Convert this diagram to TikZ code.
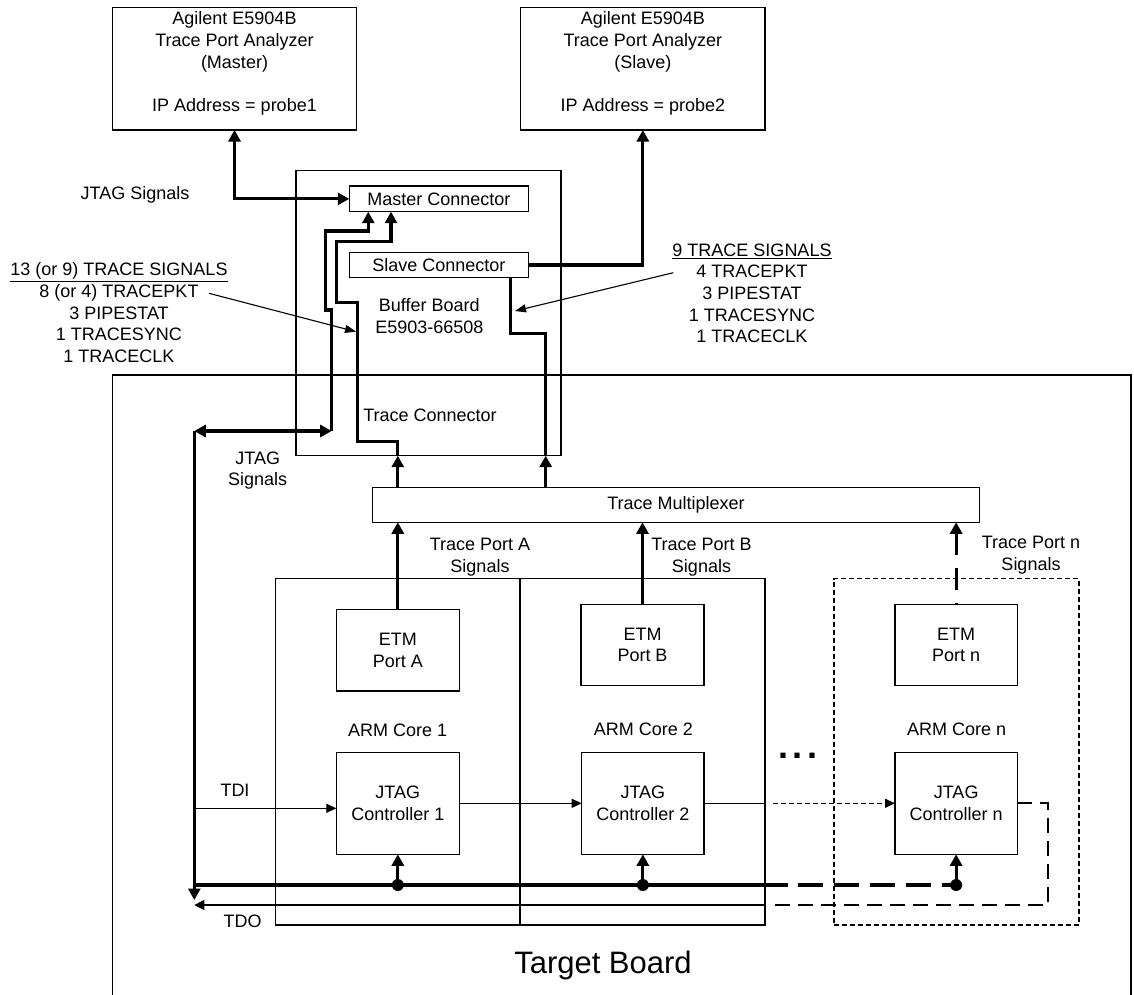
\documentclass[tikz,border=0pt]{standalone}
\usepackage{fontspec}
\setmainfont{Liberation Sans}
\usetikzlibrary{arrows.meta,calc}
\begin{document}
\begin{tikzpicture}[x=1pt,y=-1pt,
  every node/.style={font=\fontsize{18}{21.7}\selectfont, inner sep=0pt, outer sep=0pt},
  box/.style={draw, line width=1.1pt, align=center},
  lbl/.style={align=center},
  thk/.style={line width=3.2pt},
  thn/.style={line width=1.1pt},
  thkarr/.style={thk, -{Triangle[length=11.5pt,width=12pt]}},
  thkdbl/.style={thk, {Triangle[length=11.5pt,width=12pt]}-{Triangle[length=11.5pt,width=12pt]}},
  thnarr/.style={thn, -{Triangle[length=10pt,width=9pt]}},
  finedash/.style={dash pattern=on 5pt off 3pt},
  dotnode/.style={circle, fill, draw=none, minimum size=12pt}]
\useasboundingbox (0,0) rectangle (1134,994);

% ---- boards and boxes
\node[box, minimum width=1018.3pt, minimum height=660pt, anchor=north west] (tb) at (112.7,375) {};
\node[font=\fontsize{31}{36}\selectfont] (tbl) at (603,965) {Target Board};

\node[box, minimum width=244.4pt, minimum height=122.7pt] (ma) at (234.5,68.65) {};
\node[lbl] (matext) at (234.5,63.5) {Agilent E5904B\\Trace Port Analyzer\\(Master)\\[21.7pt]IP Address = probe1};
\node[box, minimum width=244.3pt, minimum height=122.7pt] (sa) at (642.85,68.65) {};
\node[lbl] (satext) at (642.85,63.5) {Agilent E5904B\\Trace Port Analyzer\\(Slave)\\[21.7pt]IP Address = probe2};

\node[box, minimum width=265pt, minimum height=285pt] (bb) at (428.5,313.2) {};
\node[lbl] (bbl) at (429.3,316) {Buffer Board\\E5903-66508};
\node[lbl] (tcl) at (430,415) {Trace Connector};
\node[box, minimum width=179pt, minimum height=25.7pt] (mc) at (438.8,198.85) {Master Connector};
\node[box, minimum width=179pt, minimum height=25.4pt] (sc) at (438.8,265) {Slave Connector};

\node[box, minimum width=606.6pt, minimum height=35pt] (mux) at (676,504.8) {Trace Multiplexer};

\node[box, minimum width=244.7pt, minimum height=346.3pt] (core1) at (397.65,751.85) {};
\node[box, minimum width=245pt, minimum height=346.3pt] (core2) at (642.5,751.85) {};
\node[box, finedash, minimum width=245pt, minimum height=346.3pt] (coren) at (956.5,751.85) {};

\node[box, minimum width=123pt, minimum height=81.3pt] (etmA) at (397.8,650.35) {ETM\\Port A};
\node[box, minimum width=123pt, minimum height=81.4pt] (etmB) at (642.5,645) {ETM\\Port B};
\node[box, minimum width=122.3pt, minimum height=81.4pt] (etmN) at (956.15,645) {ETM\\Port n};

\node[box, minimum width=123pt, minimum height=102pt] (c1) at (397.8,803.3) {JTAG\\Controller 1};
\node[box, minimum width=122.3pt, minimum height=102pt] (c2) at (642.85,803.3) {JTAG\\Controller 2};
\node[box, minimum width=122.3pt, minimum height=102pt] (cn) at (956.15,803.3) {JTAG\\Controller n};

% ---- labels
\node[lbl] (arm1) at (397.7,730) {ARM Core 1};
\node[lbl] (arm2) at (643.3,729.3) {ARM Core 2};
\node[lbl] (armn) at (956.7,729.3) {ARM Core n};
\node[lbl] (tpa) at (480,557.3) {Trace Port A\\Signals};
\node[lbl] (tpb) at (701.5,557.2) {Trace Port B\\Signals};
\node[lbl] (tpn) at (1031,555.3) {Trace Port n\\Signals};
\node[lbl] (jtag1) at (135,195.2) {JTAG Signals};
\node[lbl] (jtag2) at (257.7,470.7) {JTAG\\Signals};
\node[lbl] (tdil) at (235,790) {TDI};
\node[lbl] (tdol) at (242.7,921.7) {TDO};
\node[lbl] (trl) at (119,312.85) {\underline{13 (or 9) TRACE SIGNALS}\\8 (or 4) TRACEPKT\\3 PIPESTAT\\1 TRACESYNC\\1 TRACECLK};
\node[lbl] (trr) at (752,293.35) {\underline{9 TRACE SIGNALS}\\4 TRACEPKT\\3 PIPESTAT\\1 TRACESYNC\\1 TRACECLK};
\node[font=\fontsize{36}{36}\selectfont\bfseries, anchor=base] (dots) at (798,758.3) {.\kern5pt.\kern5pt.};

% ---- coordinates
\coordinate (jL) at (194.3,431);
\coordinate (jR) at (331.7,431);
\coordinate (vEnd) at (194.3,900);
\coordinate (busL) at (194.3,885);
\coordinate (busS) at (788,885);
\coordinate (busD) at (798,885);
\coordinate (tdiS) at (194.3,808.3);
\coordinate (tdoE) at (194.3,905);
\coordinate (tdoM) at (765,905);
\coordinate (tdoD) at (771.7,905);
\coordinate (retX) at (1048.3,905);
\coordinate (chainD) at (772.7,803.3);
\coordinate (trAs) at (209,293.3);
\coordinate (trA) at (356,331.7);
\coordinate (trBs) at (673.3,272.7);
\coordinate (trB) at (515,311);
\coordinate (xS) at (545.7,0);
\coordinate (xSc) at (510.7,0);
\coordinate (xJ) at (368.3,0);
\coordinate (xT) at (391,0);

% ---- analyzer links
\draw[thkdbl] (ma.south) |- (mc.west);
\draw[thkarr] (sc.east) -| (sa.south);

% ---- trace paths
\draw[thkarr] (etmA.north) -- (mux.south -| etmA.north);
\draw[thkarr] (mux.north -| etmA.north) -- (bb.south -| etmA.north);
\draw[thkarr] (bb.south -| etmA.north) -- (397.8,441.7) -- (357.3,441.7) -- (357.3,302.7)
  -- (336.7,302.7) -- (336.7,241.7) -- (391,241.7) -- (mc.south -| xT);
\draw[thkarr] (etmB.north) -- (mux.south -| etmB.north);
\draw[thk, dash pattern={on 1.5pt off 13pt on 22pt off 13pt on 60pt off 1pt},
  -{Triangle[length=11.5pt,width=12pt]}] (etmN.north) -- (mux.south -| etmN.north);
\draw[thkarr] (mux.north -| xS) -- (bb.south -| xS);
\draw[thk] (bb.south -| xS) -- (545.7,333.3) -- (510.7,333.3) -- (sc.south -| xSc);

% ---- JTAG
\draw[thkdbl] (jL) -- (jR);
\draw[thkarr] (jL) -- (vEnd);
\draw[thkarr] (jR) -- (331.7,310) -- (325.7,310) -- (325.7,231) -- (368.3,231) -- (mc.south -| xJ);

% ---- bus
\draw[thk] (busL) -- (busS);
\draw[thk, dash pattern=on 25pt off 11pt] (busD) -- (cn.south |- busL);
\node[dotnode] (d1) at (c1.south |- busL) {};
\node[dotnode] (d2) at (c2.south |- busL) {};
\node[dotnode] (dn) at (cn.south |- busL) {};
\draw[thkarr] (d1.center) -- (c1.south);
\draw[thkarr] (d2.center) -- (c2.south);
\draw[thkarr] (dn.center) -- (cn.south);

% ---- TDI / TDO chain
\draw[thnarr] (tdiS) -- (c1.west |- tdiS);
\draw[thnarr] (c1.east) -- (c2.west);
\draw[thn] (c2.east) -- (core2.east |- c2.east);
\draw[thn, finedash, -{Triangle[length=10pt,width=9pt]}] (chainD) -- (cn.west);
\draw[line width=1.8pt, dash pattern=on 15pt off 8pt] (cn.east) -| (retX) -- (tdoD);
\draw[thn, -{Triangle[length=10pt,width=10pt]}] (tdoM) -- (tdoE);

% ---- label pointers
\draw[thn, -{Triangle[length=11pt,width=8pt]}] (trAs) -- (trA);
\draw[thn, -{Triangle[length=11pt,width=8pt]}] (trBs) -- (trB);
\end{tikzpicture}
\end{document}
